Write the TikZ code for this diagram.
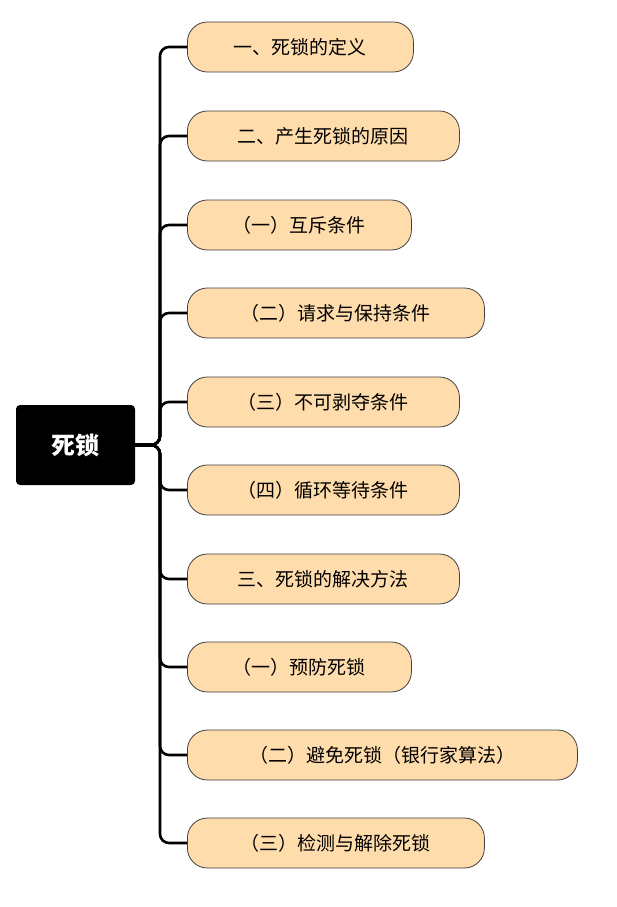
\documentclass[tikz,border=0pt]{standalone}
\usepackage{fontspec}
\setmainfont{Noto Sans CJK SC}
\usetikzlibrary{positioning}
\definecolor{peach}{HTML}{FFDCAB}
\tikzset{
  root/.style={fill=black,text=white,rounded corners=4pt,minimum width=119pt,minimum height=80pt,font=\fontsize{24}{28}\selectfont\bfseries},
  item/.style={draw=black!75,line width=0.8pt,fill=peach,rounded corners=20pt,minimum height=50pt,anchor=west,font=\fontsize{19}{22}\selectfont},
  link/.style={line width=2.6pt,rounded corners=9pt}
}
\begin{document}
\begin{tikzpicture}[x=1pt,y=-1pt]
\useasboundingbox (0,0) rectangle (616,907);
\node[root] (dl) at (75.5,445) {死锁};
\coordinate (trunk) at (160,445);
\foreach \n/\y/\r/\t in {
  b1/47/413/{一、死锁的定义},
  b2/136/459/{二、产生死锁的原因},
  b3/225/411/{（一）互斥条件},
  b4/313/484/{（二）请求与保持条件},
  b5/402/459/{（三）不可剥夺条件},
  b6/490/459/{（四）循环等待条件},
  b7/579/459/{三、死锁的解决方法},
  b8/667/411/{（一）预防死锁},
  b9/755/577/{（二）避免死锁（银行家算法）},
  b10/843/484/{（三）检测与解除死锁}}{
  \pgfmathsetmacro{\w}{\r-187}
  \node[item,minimum width=\w pt] (\n) at (187,\y) {\t};
  \draw[link] (dl.east) -- (trunk) |- (\n.west);
}
\end{tikzpicture}
\end{document}
